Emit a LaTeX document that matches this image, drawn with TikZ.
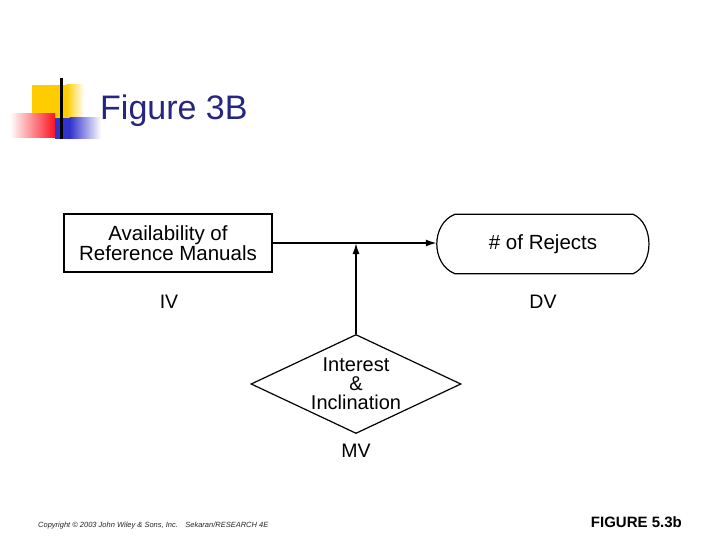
\documentclass[tikz,border=0pt]{standalone}
\usepackage{fontspec}
\setmainfont{Liberation Sans}
\usetikzlibrary{arrows.meta,shapes.geometric,calc}

\definecolor{titleblue}{RGB}{38,38,128}
\definecolor{logoyellow}{RGB}{255,204,0}
\definecolor{logored}{RGB}{250,20,30}
\definecolor{logoblue}{RGB}{50,50,205}

\begin{document}
\begin{tikzpicture}[x=1pt, y=-1pt,
    boxtext/.style={font=\fontsize{20.5}{20}\selectfont, align=center},
    vartext/.style={font=\fontsize{19.5}{19}\selectfont},
    arr/.style={-{Latex[length=11pt,width=7pt]}, line width=1.6pt}]

    \useasboundingbox[fill=white] (0,0) rectangle (720,540);

    % logo
    \begin{scope}
        \fill[logoyellow] (32,85) rectangle (67,119);
        \shade[left color=logoyellow, right color=white] (66.5,85) rectangle (84,119);
        \shade[shading angle=60, left color=white, right color=logored] (10,114) rectangle (55,138);
        \fill[logoblue] (55,118) rectangle (70,139);
        \shade[left color=logoblue, right color=white] (69.5,118) rectangle (101,139);
        \draw[line width=3pt] (61,78) -- (61,139);
    \end{scope}

    \node[anchor=base west, inner sep=0pt, text=titleblue, font=\fontsize{34}{34}\selectfont] (title) at (100,120) {Figure 3B};

    % variables
    \node[draw, line width=1.2pt, minimum width=208pt, minimum height=58pt, boxtext] (iv) at (168,243) {Availability of\\Reference Manuals};
    \node[minimum width=212pt, minimum height=59pt, boxtext] (dv) at (543,244) {\# of Rejects};
    \draw[line width=1.2pt] ($(dv.north west)+(18,0)$) -- ($(dv.north east)+(-16,0)$)
        .. controls ($(dv.north east)+(5,9.5)$) and ($(dv.south east)+(5,-9.5)$) .. ($(dv.south east)+(-16,0)$)
        -- ($(dv.south west)+(18,0)$)
        .. controls ($(dv.south west)+(-6,-9.5)$) and ($(dv.north west)+(-6,9.5)$) .. cycle;
    \node[diamond, draw, line width=1.2pt, aspect=2.12, minimum width=210pt, minimum height=99pt, inner sep=-6pt,
        font=\fontsize{20}{19}\selectfont, align=center] (mv) at (356,384) {Interest\\\&\\Inclination};

    \node[vartext] (ivlabel) at (169,302) {IV};
    \node[vartext] (dvlabel) at (543,302) {DV};
    \node[vartext] (mvlabel) at (356,451) {MV};

    \draw[arr] (iv.east) -- (iv.east -| dv.west);
    \draw[arr] (mv.north) -- (mv.north |- iv.east);

    % footer
    \node[anchor=base west, inner sep=0pt, font=\fontsize{7.5}{8}\selectfont\itshape, text=black!85] (copy) at (38,527)
        {Copyright \textcopyright\ 2003 John Wiley \& Sons, Inc.\quad Sekaran/RESEARCH 4E};
    \node[anchor=base east, inner sep=0pt, font=\fontsize{15}{15}\selectfont\bfseries] (fig) at (682,527) {FIGURE 5.3b};
\end{tikzpicture}
\end{document}
